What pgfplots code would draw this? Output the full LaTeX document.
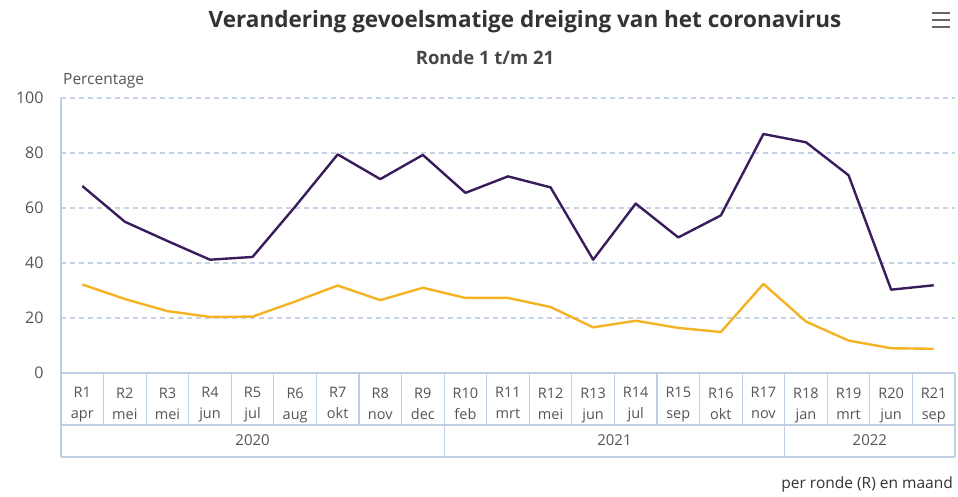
\documentclass[border=0pt]{standalone}
\usepackage{pgfplots}
\pgfplotsset{compat=1.18}
\usepackage{fontspec}
\setmainfont{Open Sans}
\definecolor{purp}{RGB}{56,28,92}
\definecolor{gold}{RGB}{245,178,35}
\definecolor{gridc}{RGB}{198,211,228}
\definecolor{axc}{RGB}{192,206,226}
\definecolor{txt}{RGB}{85,85,85}
\definecolor{ttl}{RGB}{51,51,51}
\begin{document}
\begin{tikzpicture}
\path (0,0) rectangle (958pt,496pt);
\node[anchor=center, text=ttl, font=\fontsize{22.5}{26}\selectfont\bfseries] at (525pt,474pt) {Verandering gevoelsmatige dreiging van het coronavirus};
\node[anchor=center, text=ttl!90, font=\fontsize{18.5}{22}\selectfont\bfseries] at (485pt,438pt) {Ronde 1 t/m 21};
\node[anchor=west, text=txt, font=\fontsize{15.5}{18}\selectfont, inner sep=0pt] at (63pt,415pt) {Percentage};
\node[anchor=east, text=ttl, font=\fontsize{15.5}{18}\selectfont, inner sep=0pt] at (953pt,12pt) {per ronde (R) en maand};
\foreach \yy in {469pt,476pt,483pt} \draw[line width=2.8pt, txt!90] (932pt,\yy) -- (950pt,\yy);
\begin{axis}[
  at={(61pt,123pt)}, anchor=south west,
  width=894pt, height=275pt, scale only axis,
  xmin=-0.5, xmax=20.5, ymin=0, ymax=100,
  ytick={0,20,...,100},
  axis x line=bottom, axis y line=left,
  axis line style={axc, line width=1.2pt, -},
  major tick length=0pt,
  ymajorgrids,
  grid style={gridc, dash pattern=on 5pt off 4pt, line width=1.2pt},
  xtick={0,...,20},
  xticklabels={R1\\apr,R2\\mei,R3\\mei,R4\\jun,R5\\jul,R6\\aug,R7\\okt,R8\\nov,R9\\dec,R10\\feb,R11\\mrt,R12\\mei,R13\\jun,R14\\jul,R15\\sep,R16\\okt,R17\\nov,R18\\jan,R19\\mrt,R20\\jun,R21\\sep},
  xticklabel style={align=center, text=txt, font=\fontsize{14.5}{21}\selectfont, yshift=-11pt},
  yticklabel style={text=txt, font=\fontsize{16}{19}\selectfont, xshift=-14pt},
  /pgf/number format/assume math mode=true,
  clip=false,
]
\addplot[purp, line width=2.4pt, line join=round] coordinates {
(0,68) (1,55) (2,48) (3,41.2) (4,42.2) (5,60.5) (6,79.5) (7,70.5) (8,79.3) (9,65.5)
(10,71.5) (11,67.5) (12,41.2) (13,61.6) (14,49.3) (15,57.3) (16,86.9) (17,83.9) (18,71.9) (19,30.3) (20,31.9)};
\addplot[gold, line width=2.4pt, line join=round] coordinates {
(0,32.2) (1,26.9) (2,22.5) (3,20.4) (4,20.5) (5,26) (6,31.8) (7,26.5) (8,31) (9,27.3)
(10,27.3) (11,24) (12,16.6) (13,19) (14,16.4) (15,14.9) (16,32.4) (17,18.7) (18,11.8) (19,9) (20,8.8)};
\pgfplotsinvokeforeach{-0.5,0.5,...,20.5}{
  \draw[axc, line width=1.2pt] (axis cs:#1,0) -- (axis cs:#1,-18.909);
}
\draw[axc, line width=1.2pt] (axis cs:-0.5,-18.909) -- (axis cs:20.5,-18.909);
\draw[axc, line width=1.2pt] (axis cs:-0.5,-30.545) -- (axis cs:20.5,-30.545);
\pgfplotsinvokeforeach{-0.5,8.5,16.5,20.5}{
  \draw[axc, line width=1.2pt] (axis cs:#1,-18.909) -- (axis cs:#1,-30.545);
}
\node[text=txt, font=\fontsize{15}{18}\selectfont] at (axis cs:4,-24.4) {2020};
\node[text=txt, font=\fontsize{15}{18}\selectfont] at (axis cs:12.5,-24.4) {2021};
\node[text=txt, font=\fontsize{15}{18}\selectfont] at (axis cs:18.5,-24.4) {2022};
\end{axis}
\end{tikzpicture}
\end{document}
